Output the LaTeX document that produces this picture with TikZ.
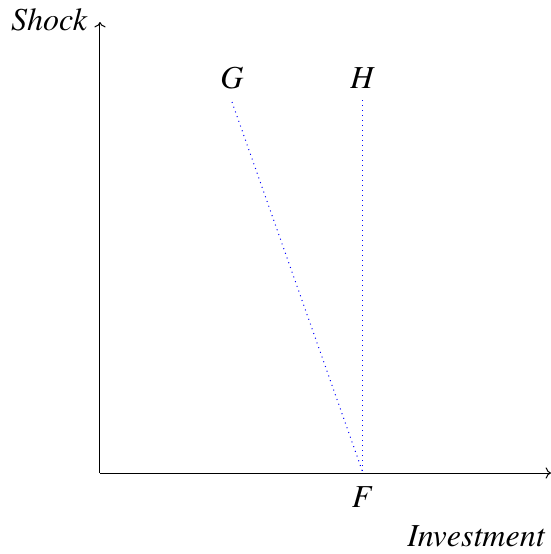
\documentclass[tikz,border=0pt]{standalone}
\usepackage[T1]{fontenc}
\usepackage{mathptmx}
\usetikzlibrary{arrows.meta,calc,positioning}
\definecolor{dotblue}{RGB}{0,0,255}

\begin{document}
\begin{tikzpicture}[x=0.5pt,y=0.5pt,font=\fontsize{16}{19}\selectfont\itshape]
 \useasboundingbox(-100,-81)rectangle(451,473);
 \coordinate(o)at(0,0);\coordinate(xend)at(451,0);\coordinate(yend)at(0,451);
 \draw[->,line width=0.5pt](o)--(xend);
 \draw[->,line width=0.5pt](o)--(yend);
 \node[anchor=east]at(-6,453)(shock){Shock};
 \node at(376,-63)(invest){Investment};
 \coordinate(f)at(263,0);
 \foreach \n/\x/\y/\t in {g/132/371/G,h/263/373/H}{\coordinate(\n)at(\x,\y);\node at(\x,395)(\n lab){$\t$};}
 \node at(263,-24)(flab){$F$};
 \foreach \n in {g,h}{\draw[dotblue,dotted,line width=0.5pt](\n)--(f);}
\end{tikzpicture}
\end{document}
